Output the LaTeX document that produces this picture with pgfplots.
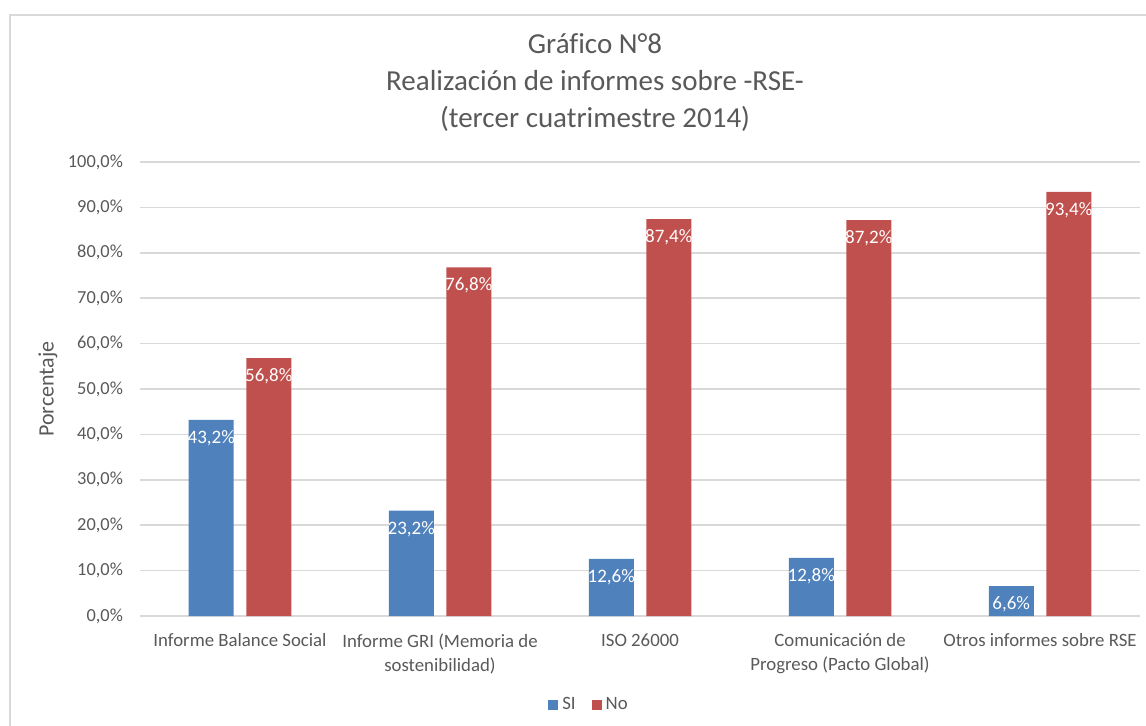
\documentclass[border=0pt]{standalone}
\usepackage{pgfplots}
\pgfplotsset{compat=1.18}
\usepackage{fontspec}
\setmainfont{Carlito}[Ligatures=NoCommon]
\definecolor{siblue}{HTML}{4F81BD}
\definecolor{nored}{HTML}{C0504D}
\definecolor{gridgray}{HTML}{D9D9D9}
\definecolor{txtgray}{HTML}{595959}
\begin{document}
\begin{tikzpicture}
\path[use as bounding box] (0,0) rectangle (573pt,362.5pt);
\draw[gridgray, line width=1pt] (5pt,-10pt) -- (5pt,355pt) -- (600pt,355pt);
\begin{axis}[
  at={(70pt,54.5pt)}, anchor=south west,
  scale only axis, width=500pt, height=227pt,
  ybar=6.25pt, bar width=22.5pt,
  xmin=-0.5, xmax=4.5, ymin=0, ymax=100,
  xtick={0,1,2,3,4},
  xticklabels={Informe Balance Social, {Informe GRI (Memoria de\\sostenibilidad)}, ISO 26000, {Comunicación de\\Progreso (Pacto Global)}, Otros informes sobre RSE},
  ytick={0,10,...,100},
  /pgf/number format/assume math mode=true,
  yticklabel={\pgfmathprintnumber[fixed,fixed zerofill,precision=1,use comma]{\tick}\%},
  yticklabel style={font=\fontsize{9.2}{11}\selectfont, text=txtgray, xshift=-5pt},
  xticklabel style={align=center, font=\fontsize{9.4}{12}\selectfont, text=txtgray, yshift=-1pt},
  axis line style={draw=none},
  tick style={draw=none},
  ymajorgrids, grid style={gridgray, line width=0.75pt},
  ylabel={Porcentaje},
  ylabel style={at={(axis description cs:-0.092,0.5)}, anchor=center, font=\fontsize{11}{13}\selectfont, text=txtgray},
  title={Gráfico N°8\\Realización de informes sobre -RSE-\\(tercer cuatrimestre 2014)},
  title style={at={(axis description cs:0.455,1.149)}, anchor=center, align=center, font=\fontsize{14.5}{18.5}\selectfont, text=txtgray},
  nodes near coords={\pgfmathprintnumber[fixed,fixed zerofill,precision=1,use comma]{\pgfplotspointmeta}\%},
  every node near coord/.append style={anchor=north, inner sep=0pt, yshift=-5pt, font=\fontsize{9.5}{11}\selectfont, text=white},
  legend style={at={(axis description cs:0.45,-0.196)}, anchor=center, draw=none, legend columns=2, font=\fontsize{9.4}{11}\selectfont, text=txtgray, /tikz/every even column/.append style={column sep=6pt}},
  legend image code/.code={\fill[#1] (0pt,-2.5pt) rectangle (5pt,2.5pt);},
]
\addplot[fill=siblue, draw=none] coordinates {(0,43.2) (1,23.2) (2,12.6) (3,12.8) (4,6.6)};
\addplot[fill=nored, draw=none] coordinates {(0,56.8) (1,76.8) (2,87.4) (3,87.2) (4,93.4)};
\legend{SI, No}
\end{axis}
\end{tikzpicture}
\end{document}
